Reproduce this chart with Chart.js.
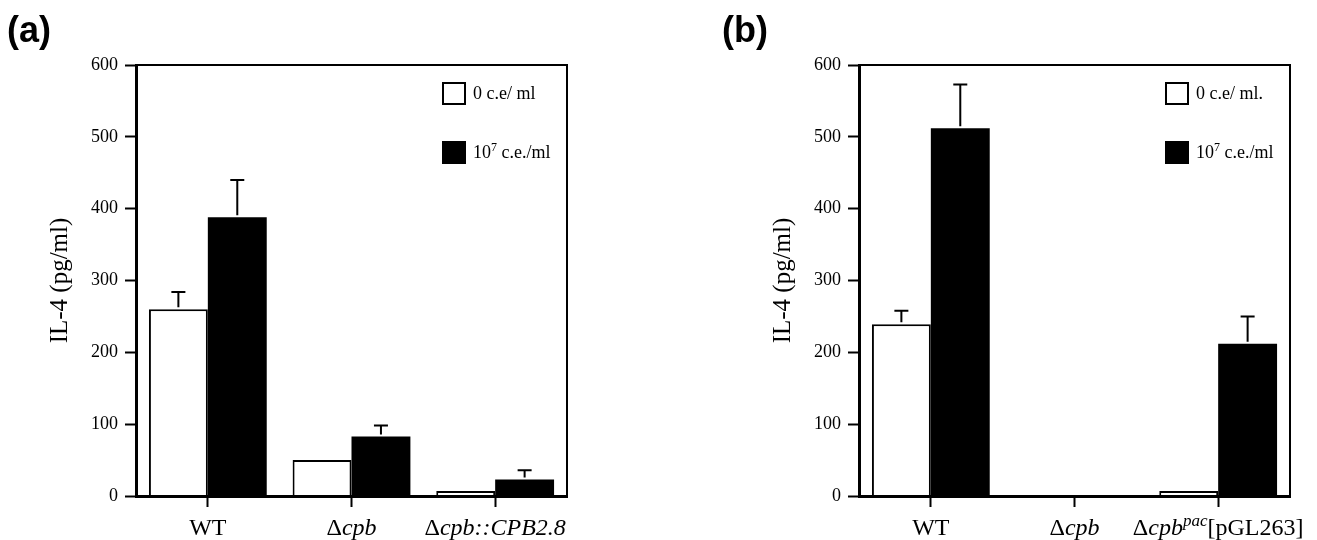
<!DOCTYPE html>
<html>
<head>
<meta charset="utf-8">
<script src="https://cdn.jsdelivr.net/npm/chart.js@4.4.0/dist/chart.umd.min.js"></script>
<style>
  body { margin: 0; background: #fff; width: 1317px; height: 540px; overflow: hidden; position: relative; }
  canvas { position: absolute; top: 0; }
</style>
</head>
<body>
<canvas id="chartA" width="600" height="540" style="left:0px"></canvas>
<canvas id="chartB" width="597" height="540" style="left:720px"></canvas>
<script>
'use strict';

// ***** DATA *****
// panel (a)
const categoriesA = ['WT', 'Δcpb', 'Δcpb::CPB2.8'];
const lowDoseA = [260, 50, 7];
const highDoseA = [388, 83, 23];
const lowErrA = [24, 0, 0];
const highErrA = [52, 15, 13];

// panel (b)
const categoriesB = ['WT', 'Δcpb', 'Δcpb^pac[pGL263]'];
const lowDoseB = [239, 0, 7];
const highDoseB = [512, 0, 212];
const lowErrB = [19, 0, 0];
const highErrB = [61, 0, 38];

// y axis ticks
const yMin = 0;
const yMax = 600;
const yStep = 100;

// x labels as rich text (italic / superscript bits)
const labelPartsA = [
  [{ text: 'WT' }],
  [{ text: 'Δ' }, { text: 'cpb', italic: true }],
  [{ text: 'Δ' }, { text: 'cpb::CPB2.8', italic: true }]
];
const labelPartsB = [
  [{ text: 'WT' }],
  [{ text: 'Δ' }, { text: 'cpb', italic: true }],
  [{ text: 'Δ' }, { text: 'cpb', italic: true }, { text: 'pac', italic: true, sup: true }, { text: '[pGL263]' }]
];

// legend texts
const legendA = [
  [{ text: '0 c.e/ ml' }],
  [{ text: '10' }, { text: '7', sup: true }, { text: ' c.e./ml' }]
];
const legendB = [
  [{ text: '0 c.e/ ml.' }],
  [{ text: '10' }, { text: '7', sup: true }, { text: ' c.e./ml' }]
];

const SERIF = 'Liberation Serif';

// ***** HELPERS *****
function fontFor(part, size, supSize) {
  let f = part.italic ? 'italic ' : '';
  return f + (part.sup ? supSize : size) + 'px "' + SERIF + '"';
}

// draw a row of text pieces, align 'center' or 'left'
function drawRich(ctx, parts, x, baseline, size, supSize, supRise, align) {
  let widths = [];
  let total = 0;
  parts.forEach(p => {
    ctx.font = fontFor(p, size, supSize);
    let w = ctx.measureText(p.text).width;
    widths.push(w);
    total += w;
  });
  let cx = align === 'center' ? x - total / 2 : x;
  ctx.textAlign = 'left';
  ctx.textBaseline = 'alphabetic';
  parts.forEach((p, i) => {
    ctx.font = fontFor(p, size, supSize);
    ctx.fillText(p.text, cx, baseline - (p.sup ? supRise : 0));
    cx += widths[i];
  });
}

// error bars, frame, legend, x labels, panel tag
const panelExtras = {
  id: 'panelExtras',
  afterDatasetsDraw(chart) {
    const ctx = chart.ctx;
    const yScale = chart.scales.y;
    chart.data.datasets.forEach((ds, di) => {
      const meta = chart.getDatasetMeta(di);
      meta.data.forEach((bar, i) => {
        const err = ds.errors[i];
        if (!err) return;
        const yTop = yScale.getPixelForValue(ds.data[i] + err);
        ctx.save();
        ctx.strokeStyle = '#000';
        ctx.lineWidth = 2;
        ctx.beginPath();
        ctx.moveTo(bar.x, bar.y - 2);
        ctx.lineTo(bar.x, yTop);
        ctx.moveTo(bar.x - 7, yTop);
        ctx.lineTo(bar.x + 7, yTop);
        ctx.stroke();
        ctx.restore();
      });
    });
  },
  afterDraw(chart, args, opts) {
    const ctx = chart.ctx;
    const area = chart.chartArea;
    const xScale = chart.scales.x;
    ctx.save();

    // box round the plot
    ctx.strokeStyle = '#000';
    ctx.lineWidth = 2;
    ctx.strokeRect(area.left, area.top, area.right - area.left, area.bottom - area.top);

    // legend
    const boxX = area.right - 124;
    const rows = [area.top + 18, area.top + 77];
    chart.data.datasets.forEach((ds, di) => {
      const y = rows[di];
      ctx.fillStyle = ds.backgroundColor;
      ctx.fillRect(boxX, y, 22, 21);
      ctx.strokeStyle = '#000';
      ctx.lineWidth = 2;
      ctx.strokeRect(boxX, y, 22, 21);
      ctx.fillStyle = '#000';
      drawRich(ctx, opts.legend[di], boxX + 30, y + 16, 18, 12, 7, 'left');
    });

    // category labels under the ticks
    ctx.fillStyle = '#000';
    opts.labels.forEach((parts, i) => {
      const x = xScale.getPixelForTick(i);
      drawRich(ctx, parts, x, 535, 24, 17, 9, 'center');
    });

    // panel tag
    ctx.font = 'bold 36px "Liberation Sans"';
    ctx.textAlign = 'left';
    ctx.textBaseline = 'alphabetic';
    ctx.fillText(opts.tag, opts.tagX, 42);
    ctx.restore();
  }
};

function makeChart(canvasId, cats, low, high, lowErr, highErr, parts, legend, tag, tagX, padLeft, yWidth, padRight) {
  const ctx = document.getElementById(canvasId).getContext('2d');
  return new Chart(ctx, {
    type: 'bar',
    data: {
      labels: cats,
      datasets: [
        {
          label: legend[0].map(p => p.text).join(''),
          data: low,
          errors: lowErr,
          backgroundColor: '#ffffff',
          borderColor: '#000000',
          borderWidth: 2,
          borderSkipped: 'bottom',
          categoryPercentage: 0.82,
          barPercentage: 1.0
        },
        {
          label: legend[1].map(p => p.text).join(''),
          data: high,
          errors: highErr,
          backgroundColor: '#000000',
          borderColor: '#000000',
          borderWidth: 0,
          categoryPercentage: 0.82,
          barPercentage: 1.0
        }
      ]
    },
    options: {
      responsive: false,
      animation: false,
      devicePixelRatio: 1,
      layout: { padding: { left: padLeft, top: 65, right: padRight, bottom: 0 } },
      plugins: {
        legend: { display: false },
        tooltip: { enabled: false },
        panelExtras: { labels: parts, legend: legend, tag: tag, tagX: tagX }
      },
      scales: {
        x: {
          offset: true,
          grid: { display: true, drawOnChartArea: false, offset: false, tickLength: 11, tickWidth: 2, tickColor: '#000' },
          border: { display: true, width: 3, color: '#000' },
          ticks: { display: false },
          afterFit(scale) { scale.height = 44; }
        },
        y: {
          min: yMin,
          max: yMax,
          ticks: { stepSize: yStep, color: '#000', padding: 7, font: { family: SERIF, size: 18 } },
          grid: { drawOnChartArea: false, tickLength: 11, tickWidth: 2, tickColor: '#000' },
          border: { display: true, width: 3, color: '#000' },
          title: { display: true, text: 'IL-4 (pg/ml)', color: '#000', padding: 0, font: { family: SERIF, size: 25 } },
          afterFit(scale) { scale.width = yWidth; }
        }
      }
    },
    plugins: [panelExtras]
  });
}

makeChart('chartA', categoriesA, lowDoseA, highDoseA, lowErrA, highErrA, labelPartsA, legendA, '(a)', 7, 45, 91, 33);
makeChart('chartB', categoriesB, lowDoseB, highDoseB, lowErrB, highErrB, labelPartsB, legendB, '(b)', 2, 48, 91, 27);
</script>
</body>
</html>
